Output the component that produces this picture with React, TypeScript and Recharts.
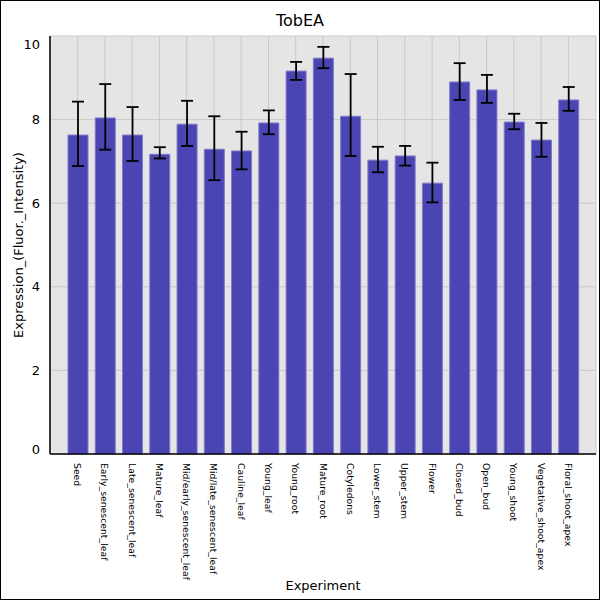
import React from "react";
import {
  BarChart,
  Bar,
  XAxis,
  YAxis,
  CartesianGrid,
  ErrorBar,
} from "recharts";

const experiments = [
  "Seed",
  "Early_senescent_leaf",
  "Late_senescent_leaf",
  "Mature_leaf",
  "Mid/early_senescent_leaf",
  "Mid/late_senescent_leaf",
  "Cauline_leaf",
  "Young_leaf",
  "Young_root",
  "Mature_root",
  "Cotyledons",
  "Lower_stem",
  "Upper_stem",
  "Flower",
  "Closed_bud",
  "Open_bud",
  "Young_shoot",
  "Vegetative_shoot_apex",
  "Floral_shoot_apex",
];

const expression = [
  7.63, 8.04, 7.63, 7.17, 7.89, 7.29, 7.25, 7.92, 9.16, 9.47, 8.08, 7.03, 7.13,
  6.48, 8.9, 8.71, 7.94, 7.51, 8.47,
];

const errorLow = [
  6.89, 7.28, 7.01, 7.07, 7.37, 6.55, 6.81, 7.65, 8.95, 9.23, 7.13, 6.74, 6.9,
  6.02, 8.47, 8.4, 7.77, 7.11, 8.21,
];

const errorHigh = [
  8.43, 8.85, 8.3, 7.34, 8.45, 8.08, 7.71, 8.22, 9.38, 9.74, 9.09, 7.35, 7.37,
  6.97, 9.35, 9.07, 8.14, 7.92, 8.78,
];

const yTicks = [0, 2, 4, 6, 8, 10];

const data = experiments.map((name, i) => ({
  name,
  value: expression[i],
  err: [expression[i] - errorLow[i], errorHigh[i] - expression[i]],
}));

const FONT = "'DejaVu Sans', sans-serif";

const XTick = (props: any) => {
  const { x, y, payload } = props;
  return (
    <text
      x={0}
      y={0}
      transform={`translate(${x},${y + 1}) rotate(90)`}
      textAnchor="start"
      dominantBaseline="central"
      fontSize={9.3}
      fontFamily={FONT}
      fill="#000"
    >
      {payload.value}
    </text>
  );
};

const YTick = (props: any) => {
  const { x, y, payload } = props;
  let dy = 0;
  if (payload.value === 10) dy = 8;
  if (payload.value === 0) dy = -5;
  return (
    <text
      x={x - 2}
      y={y + dy}
      textAnchor="end"
      dominantBaseline="central"
      fontSize={13}
      fontFamily={FONT}
      fill="#000"
    >
      {payload.value}
    </text>
  );
};

export default function App() {
  return (
    <div
      style={{
        position: "absolute",
        top: 0,
        left: 0,
        width: 600,
        height: 600,
        background: "#fff",
      }}
    >
      <BarChart
        width={600}
        height={600}
        data={data}
        margin={{ top: 36, right: 4, left: 0, bottom: 0 }}
        barSize={20}
      >
        <CartesianGrid fill="#e5e5e5" stroke="#c9c9c9" strokeWidth={1} />
        <XAxis
          dataKey="name"
          interval={0}
          height={146}
          padding={{ left: 14, right: 14 }}
          tickLine={false}
          axisLine={{ stroke: "#000", strokeWidth: 1.5 }}
          tick={<XTick />}
          label={{
            content: (p: any) => {
              const vb = p.viewBox;
              return (
                <text
                  x={vb.x + vb.width / 2}
                  y={vb.y + 131}
                  textAnchor="middle"
                  dominantBaseline="central"
                  fontSize={13}
                  fontFamily={FONT}
                  fill="#000"
                >
                  Experiment
                </text>
              );
            },
          }}
        />
        <YAxis
          width={50}
          domain={[0, 10]}
          ticks={yTicks}
          tickLine={false}
          axisLine={{ stroke: "#000", strokeWidth: 1.5 }}
          tick={<YTick />}
          label={{
            content: (p: any) => {
              const vb = p.viewBox;
              const cy = vb.y + vb.height / 2;
              return (
                <text
                  x={18}
                  y={cy}
                  transform={`rotate(-90, 18, ${cy})`}
                  textAnchor="middle"
                  dominantBaseline="central"
                  fontSize={13}
                  fontFamily={FONT}
                  fill="#000"
                >
                  Expression_(Fluor._Intensity)
                </text>
              );
            },
          }}
        />
        <Bar
          dataKey="value"
          fill="#4a45b2"
          stroke="#7f7acb"
          strokeWidth={1}
          isAnimationActive={false}
        >
          <ErrorBar
            dataKey="err"
            width={6}
            stroke="#000"
            strokeWidth={1.8}
            direction="y"
          />
        </Bar>
      </BarChart>
      <div
        style={{
          position: "absolute",
          top: 11,
          left: 0,
          width: 600,
          textAlign: "center",
          fontFamily: FONT,
          fontSize: 16,
          color: "#000",
        }}
      >
        TobEA
      </div>
      <div
        style={{
          position: "absolute",
          top: 0,
          left: 0,
          width: 600,
          height: 600,
          boxSizing: "border-box",
          border: "1px solid #000",
          pointerEvents: "none",
        }}
      />
    </div>
  );
}
